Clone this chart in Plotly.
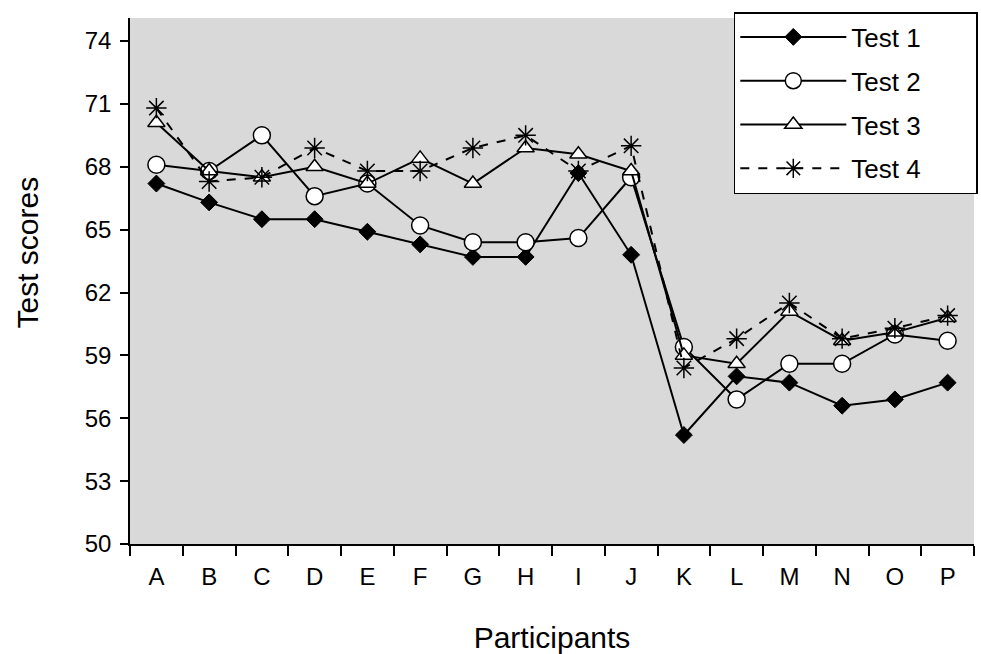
import plotly.graph_objects as go

participants = list("ABCDEFGHIJKLMNOP")
test1 = [67.2, 66.3, 65.5, 65.5, 64.9, 64.3, 63.7, 63.7, 67.7, 63.8, 55.2, 58.0, 57.7, 56.6, 56.9, 57.7]
test2 = [68.1, 67.8, 69.5, 66.6, 67.2, 65.2, 64.4, 64.4, 64.6, 67.5, 59.4, 56.9, 58.6, 58.6, 60.0, 59.7]
test3 = [70.1, 67.8, 67.5, 68.0, 67.2, 68.4, 67.2, 68.9, 68.6, 67.8, 59.0, 58.6, 61.1, 59.7, 60.1, 60.8]
test4 = [70.8, 67.3, 67.5, 68.9, 67.8, 67.8, 68.9, 69.5, 67.8, 69.0, 58.4, 59.8, 61.5, 59.8, 60.3, 60.9]
y_ticks = [50, 53, 56, 59, 62, 65, 68, 71, 74]
x_title = "Participants"
y_title = "Test scores"

series = [
    ("Test 1", test1, dict(symbol="diamond", size=13, color="black", line=dict(color="black", width=1)), "solid"),
    ("Test 2", test2, dict(symbol="circle", size=17, color="white", line=dict(color="black", width=1.5)), "solid"),
    ("Test 3", test3, dict(symbol="triangle-up", size=15, color="white", line=dict(color="black", width=1.5)), "solid"),
    ("Test 4", test4, dict(symbol="asterisk-open", size=17, color="black", line=dict(color="black", width=1.5)), "dash"),
]

pad = "\u00a0" * 7

fig = go.Figure()
for name, vals, marker, dash in series:
    fig.add_trace(go.Scatter(
        x=participants, y=vals, name=name + pad, mode="lines+markers",
        line=dict(color="black", width=2, dash=dash),
        marker=marker, legendgroup=name,
    ))

fig.update_layout(
    width=981, height=654,
    margin=dict(l=130, r=3, t=18, b=110),
    paper_bgcolor="white",
    plot_bgcolor="#d9d9d9",
    font=dict(family="Liberation Sans, Arial, sans-serif", color="black", size=24),
    showlegend=True,
    legend=dict(
        x=1.0045, xanchor="right", y=1.0114, yanchor="top",
        bgcolor="white", bordercolor="black", borderwidth=1.5,
        font=dict(size=26), traceorder="grouped", tracegroupgap=7,
        itemwidth=106,
    ),
    xaxis=dict(
        type="category", range=[-0.5, 15.5], tickson="boundaries",
        ticks="outside", ticklen=10, tickwidth=1.5, tickcolor="black",
        showline=True, linecolor="black", linewidth=1.5, showgrid=False,
        ticklabelstandoff=10,
        title=dict(text=x_title, font=dict(size=30), standoff=38),
        tickfont=dict(size=24),
    ),
    yaxis=dict(
        range=[50, 75.1], tickvals=y_ticks,
        ticks="outside", ticklen=8, tickwidth=1.5, tickcolor="black",
        showline=True, linecolor="black", linewidth=1.5, showgrid=False, zeroline=False,
        ticklabelstandoff=4,
        tickfont=dict(size=24),
    ),
    annotations=[dict(
        text=y_title, textangle=-90, showarrow=False,
        xref="paper", yref="paper", x=-0.1215, y=0.555,
        xanchor="center", yanchor="middle", font=dict(size=30),
    )],
)

fig.write_html(
    "out.html",
    config={"displayModeBar": False},
    post_script="document.body.style.margin='0';document.body.style.overflow='hidden';",
)
